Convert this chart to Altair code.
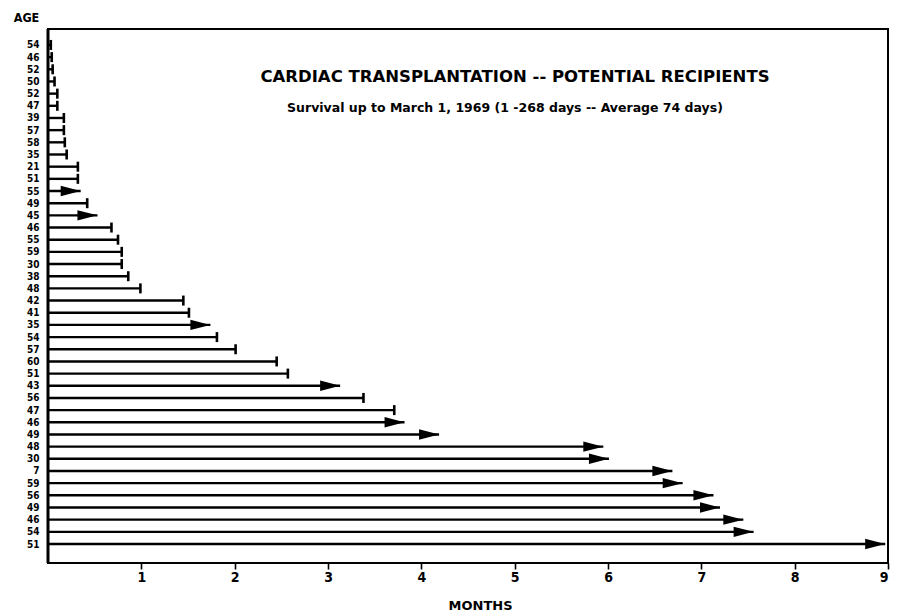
import altair as alt
import pandas as pd

ages = [54, 46, 52, 50, 52, 47, 39, 57, 58, 35, 21, 51, 55, 49, 45,
        46, 55, 59, 30, 38, 48, 42, 41, 35, 54, 57, 60, 51, 43, 56,
        47, 46, 49, 48, 30, 7, 59, 56, 49, 46, 54, 51]
months = [0.03, 0.04, 0.05, 0.07, 0.10, 0.10, 0.17, 0.17, 0.18, 0.20, 0.32, 0.32, 0.35, 0.42, 0.53,
          0.68, 0.75, 0.79, 0.79, 0.86, 0.99, 1.45, 1.51, 1.74, 1.81, 2.01, 2.45, 2.57, 3.13, 3.38,
          3.71, 3.82, 4.19, 5.95, 6.01, 6.69, 6.80, 7.13, 7.20, 7.45, 7.56, 8.97]
# True = still alive (arrow), False = died (bar end)
alive = [False, False, False, False, False, False, False, False, False, False, False, False, True, False, True,
         False, False, False, False, False, False, False, False, True, False, False, False, False, True, False,
         False, True, True, True, True, True, True, True, True, True, True, True]
x_ticks = [1, 2, 3, 4, 5, 6, 7, 8, 9]

title_text = "CARDIAC TRANSPLANTATION -- POTENTIAL RECIPIENTS"
subtitle_text = "Survival up to March 1, 1969   (1 -268 days -- Average 74 days)"

df = pd.DataFrame({
    "row": list(range(len(ages))),
    "age": ages,
    "months": months,
    "start": [0.0] * len(ages),
    "alive": alive,
})

FONT = "DejaVu Sans Condensed"
label_expr = "[" + ",".join(f"'{a}'" for a in ages) + "][datum.value]"

xscale = alt.Scale(domain=[0, 9], nice=False, zero=True)
yscale = alt.Scale(domain=[-1.31, 42.56], reverse=True, nice=False, zero=False)

x_axis = alt.Axis(values=x_ticks, title="MONTHS", grid=False, domain=False,
                  tickSize=6, tickWidth=1.6, tickColor="black",
                  labelFont=FONT, labelFontSize=14, labelFontWeight="bold",
                  labelColor="black", labelPadding=1,
                  titleFont="DejaVu Sans", titleFontSize=13, titleFontWeight="bold",
                  titleColor="black", titleX=432, titleY=46,
                  titleBaseline="alphabetic")
y_axis = alt.Axis(values=list(range(len(ages))), labelExpr=label_expr,
                  ticks=False, tickSize=0, grid=False, domain=False,
                  labelOverlap=False, labelPadding=9,
                  labelFont=FONT, labelFontSize=10, labelFontWeight="bold",
                  labelColor="black",
                  title="AGE", titleAngle=0, titleX=-22, titleY=-8,
                  titleAlign="center", titleBaseline="alphabetic",
                  titleFont=FONT, titleFontSize=12.5, titleFontWeight="bold",
                  titleColor="black")

base = alt.Chart(df)

lines = base.mark_rule(color="black", strokeWidth=2.4).encode(
    x=alt.X("start:Q", scale=xscale, axis=x_axis),
    x2="months:Q",
    y=alt.Y("row:Q", scale=yscale, axis=y_axis),
)

caps = base.transform_filter("!datum.alive").mark_tick(
    orient="vertical", color="black", thickness=2.6, size=10, opacity=1
).encode(
    x=alt.X("months:Q", scale=xscale, axis=x_axis),
    y=alt.Y("row:Q", scale=yscale, axis=y_axis),
)

arrows = base.transform_filter("datum.alive").mark_point(
    shape="M -1 -0.26 L 0 0 L -1 0.26 Z", size=1600, filled=True,
    color="black", opacity=1, strokeWidth=0
).encode(
    x=alt.X("months:Q", scale=xscale, axis=x_axis),
    y=alt.Y("row:Q", scale=yscale, axis=y_axis),
)

title = alt.Chart(pd.DataFrame({"t": [title_text]})).mark_text(
    font="DejaVu Sans", fontSize=16.5, fontWeight="bold", color="black", align="center",
    baseline="middle"
).encode(text="t:N", x=alt.value(467), y=alt.value(48))

subtitle = alt.Chart(pd.DataFrame({"t": [subtitle_text]})).mark_text(
    font="DejaVu Sans", fontSize=12.5, fontWeight="bold", color="black", align="center",
    baseline="middle"
).encode(text="t:N", x=alt.value(457), y=alt.value(79))

left_edge = alt.Chart(pd.DataFrame({"v": [0.0]})).mark_rule(color="black", strokeWidth=3).encode(
    x=alt.X("v:Q", scale=xscale, axis=x_axis)
)

chart = alt.layer(lines, caps, arrows, left_edge, title, subtitle).properties(
    width=840, height=534,
    autosize=alt.AutoSizeParams(type="none"),
    padding={"left": 40, "top": 21, "right": 2, "bottom": 48},
    background="white",
).configure_view(stroke="black", strokeWidth=2)

chart.save("out.html", embed_options={"renderer": "svg", "actions": False})
